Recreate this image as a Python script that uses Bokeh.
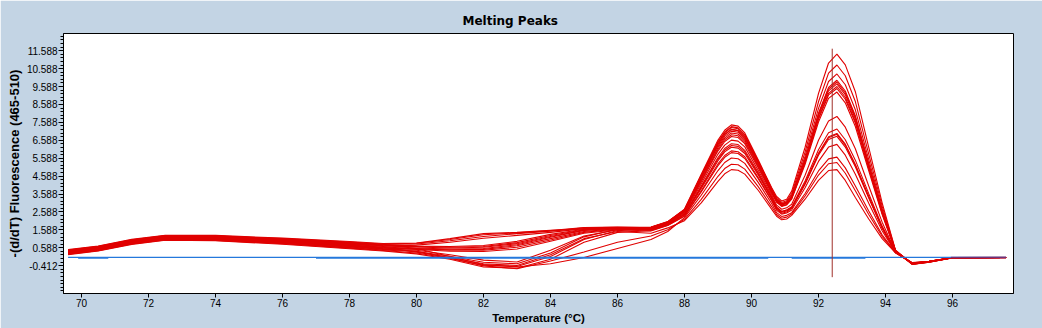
from bokeh.plotting import figure
from bokeh.models import Range1d, FixedTicker, PrintfTickFormatter
from bokeh.embed import file_html
from bokeh.resources import INLINE

# Temperature grid (°C) shared by all sample curves
temps = [69.6, 70.5, 71.5, 72.5, 74.0, 76.0, 78.0, 79.0, 80.0, 81.0, 82.0, 83.0, 84.0, 85.0, 86.0,
         87.0, 87.5, 88.0, 88.5, 89.0, 89.2, 89.4, 89.6, 89.8, 90.2, 90.6, 90.75, 90.9, 91.05, 91.2, 91.6,
         92.0, 92.3, 92.55, 92.8, 93.1, 93.5, 93.9, 94.3, 94.8, 95.3, 96.0, 97.6]

# -(d/dT) Fluorescence (465-510) for each sample
sample_01 = [0.45, 0.65, 1.02, 1.25, 1.24, 1.08, 0.88, 0.77, 0.80, 0.98, 1.22, 1.38, 1.52, 1.70, 1.74, 1.75, 2.05, 2.75, 4.70, 6.60, 7.15, 7.45, 7.38, 7.00, 5.50, 3.95, 3.45, 3.20, 3.30, 3.75, 6.20, 9.20, 10.90, 11.40, 10.80, 9.30, 6.20, 3.10, 0.45, -0.32, -0.20, 0.04, 0.05]
sample_02 = [0.40, 0.60, 0.97, 1.20, 1.19, 1.02, 0.81, 0.70, 0.66, 0.62, 0.66, 0.88, 1.28, 1.60, 1.70, 1.73, 2.03, 2.71, 4.60, 6.46, 7.00, 7.30, 7.23, 6.86, 5.40, 3.88, 3.36, 3.12, 3.21, 3.62, 5.93, 8.74, 10.34, 10.79, 10.19, 8.75, 5.82, 2.91, 0.44, -0.30, -0.19, 0.05, 0.06]
sample_03 = [0.30, 0.50, 0.87, 1.10, 1.08, 0.90, 0.67, 0.55, 0.52, 0.48, 0.50, 0.70, 1.10, 1.50, 1.66, 1.72, 2.02, 2.69, 4.54, 6.37, 6.91, 7.20, 7.13, 6.77, 5.33, 3.83, 3.30, 3.05, 3.15, 3.52, 5.70, 8.37, 9.87, 10.29, 9.69, 8.29, 5.51, 2.76, 0.42, -0.33, -0.21, 0.03, 0.05]
sample_04 = [0.47, 0.67, 1.04, 1.27, 1.26, 1.10, 0.91, 0.80, 0.84, 1.05, 1.32, 1.42, 1.55, 1.72, 1.75, 1.70, 2.00, 2.66, 4.48, 6.28, 6.81, 7.10, 7.04, 6.68, 5.26, 3.78, 3.25, 3.01, 3.10, 3.44, 5.54, 8.10, 9.54, 9.94, 9.34, 7.96, 5.29, 2.65, 0.42, -0.29, -0.18, 0.04, 0.05]
sample_05 = [0.35, 0.55, 0.92, 1.15, 1.13, 0.96, 0.74, 0.62, 0.58, 0.52, 0.55, 0.76, 1.18, 1.56, 1.69, 1.74, 2.04, 2.72, 4.64, 6.51, 7.05, 7.35, 7.28, 6.91, 5.43, 3.90, 3.30, 3.05, 3.15, 3.42, 5.50, 8.03, 9.45, 9.84, 9.24, 7.87, 5.23, 2.62, 0.41, -0.34, -0.22, 0.02, 0.04]
sample_06 = [0.25, 0.45, 0.82, 1.05, 1.02, 0.84, 0.60, 0.47, 0.38, 0.12, -0.22, -0.30, 0.30, 1.20, 1.62, 1.69, 1.99, 2.63, 4.41, 6.19, 6.71, 7.00, 6.94, 6.59, 5.19, 3.73, 3.21, 2.97, 3.06, 3.40, 5.45, 7.95, 9.35, 9.74, 9.14, 7.78, 5.17, 2.58, 0.41, -0.31, -0.19, 0.04, 0.05]
sample_07 = [0.43, 0.63, 1.00, 1.23, 1.22, 1.06, 0.85, 0.74, 0.68, 0.66, 0.72, 0.95, 1.34, 1.62, 1.71, 1.72, 2.02, 2.69, 4.54, 6.37, 6.91, 7.20, 7.13, 6.77, 5.33, 3.83, 3.24, 3.00, 3.09, 3.37, 5.39, 7.84, 9.21, 9.59, 8.99, 7.64, 5.08, 2.54, 0.41, -0.30, -0.20, 0.03, 0.05]
sample_08 = [0.23, 0.43, 0.80, 1.03, 1.00, 0.82, 0.57, 0.44, 0.30, 0.00, -0.38, -0.45, 0.10, 1.05, 1.55, 1.67, 1.97, 2.61, 4.35, 6.09, 6.62, 6.90, 6.84, 6.49, 5.13, 3.69, 3.16, 2.93, 3.01, 3.35, 5.34, 7.76, 9.12, 9.48, 8.88, 7.55, 5.01, 2.51, 0.41, -0.32, -0.21, 0.03, 0.04]
sample_09 = [0.38, 0.58, 0.95, 1.18, 1.16, 1.00, 0.78, 0.66, 0.74, 0.90, 1.12, 1.28, 1.45, 1.66, 1.71, 1.66, 1.96, 2.58, 4.28, 6.00, 6.52, 6.80, 6.74, 6.40, 5.06, 3.64, 3.13, 2.90, 2.98, 3.31, 5.25, 7.61, 8.93, 9.28, 8.68, 7.36, 4.89, 2.44, 0.40, -0.29, -0.18, 0.04, 0.05]
sample_10 = [0.32, 0.52, 0.89, 1.12, 1.10, 0.92, 0.70, 0.58, 0.55, 0.45, 0.45, 0.62, 1.02, 1.45, 1.64, 1.63, 1.93, 2.53, 4.16, 5.82, 6.32, 6.60, 6.54, 6.22, 4.92, 3.54, 2.97, 2.74, 2.82, 3.02, 4.64, 6.59, 7.67, 7.92, 7.32, 6.12, 4.04, 2.02, 0.37, -0.28, -0.18, 0.03, 0.05]
sample_11 = [0.49, 0.69, 1.06, 1.29, 1.28, 1.13, 0.94, 0.83, 0.86, 1.10, 1.38, 1.45, 1.56, 1.64, 1.68, 1.59, 1.89, 2.45, 3.96, 5.54, 6.03, 6.30, 6.25, 5.94, 4.72, 3.40, 2.85, 2.62, 2.70, 2.88, 4.32, 6.06, 7.01, 7.22, 6.62, 5.48, 3.61, 1.80, 0.35, -0.27, -0.17, 0.04, 0.05]
sample_12 = [0.27, 0.47, 0.84, 1.07, 1.04, 0.86, 0.63, 0.50, 0.45, 0.20, -0.10, -0.20, 0.45, 1.25, 1.60, 1.60, 1.90, 2.48, 4.03, 5.63, 6.13, 6.40, 6.35, 6.03, 4.79, 3.45, 2.85, 2.62, 2.70, 2.82, 4.21, 5.87, 6.78, 6.97, 6.37, 5.24, 3.45, 1.73, 0.35, -0.30, -0.19, 0.03, 0.05]
sample_13 = [0.41, 0.61, 0.98, 1.21, 1.20, 1.03, 0.82, 0.71, 0.63, 0.58, 0.62, 0.82, 1.22, 1.57, 1.68, 1.58, 1.88, 2.43, 3.90, 5.45, 5.94, 6.20, 6.15, 5.85, 4.65, 3.35, 2.79, 2.57, 2.64, 2.81, 4.18, 5.83, 6.73, 6.92, 6.32, 5.20, 3.42, 1.71, 0.35, -0.31, -0.20, 0.02, 0.04]
sample_14 = [0.21, 0.41, 0.78, 1.01, 0.98, 0.79, 0.54, 0.41, 0.25, -0.05, -0.48, -0.55, -0.05, 0.90, 1.45, 1.55, 1.85, 2.37, 3.77, 5.27, 5.74, 6.00, 5.95, 5.67, 4.51, 3.25, 2.74, 2.52, 2.59, 2.79, 4.14, 5.75, 6.63, 6.81, 6.21, 5.11, 3.36, 1.68, 0.34, -0.28, -0.18, 0.03, 0.05]
sample_15 = [0.33, 0.53, 0.90, 1.13, 1.11, 0.94, 0.71, 0.59, 0.50, 0.40, 0.38, 0.52, 0.95, 1.40, 1.60, 1.53, 1.83, 2.35, 3.71, 5.17, 5.64, 5.90, 5.85, 5.57, 4.45, 3.21, 2.68, 2.47, 2.53, 2.70, 3.94, 5.41, 6.21, 6.36, 5.76, 4.69, 3.08, 1.54, 0.33, -0.27, -0.17, 0.04, 0.05]
sample_16 = [0.45, 0.65, 1.02, 1.25, 1.24, 1.08, 0.88, 0.77, 0.55, 0.10, -0.35, -0.48, -0.30, 0.05, 0.55, 1.05, 1.50, 2.27, 3.52, 4.90, 5.35, 5.60, 5.56, 5.30, 4.24, 3.06, 2.55, 2.34, 2.40, 2.55, 3.62, 4.88, 5.55, 5.65, 5.05, 4.04, 2.64, 1.32, 0.32, -0.26, -0.17, 0.03, 0.05]
sample_17 = [0.29, 0.49, 0.86, 1.09, 1.06, 0.89, 0.66, 0.53, 0.40, 0.02, -0.42, -0.58, -0.15, 0.35, 0.90, 1.25, 1.60, 2.18, 3.29, 4.58, 5.01, 5.25, 5.22, 4.98, 4.00, 2.89, 2.45, 2.24, 2.30, 2.48, 3.48, 4.65, 5.28, 5.35, 4.75, 3.77, 2.45, 1.23, 0.31, -0.25, -0.16, 0.03, 0.05]
sample_18 = [0.35, 0.55, 0.92, 1.15, 1.13, 0.96, 0.74, 0.62, 0.35, 0.05, -0.30, -0.40, 0.20, 1.10, 1.50, 1.40, 1.70, 2.10, 3.10, 4.30, 4.72, 4.95, 4.92, 4.70, 3.80, 2.75, 2.35, 2.15, 2.20, 2.40, 3.30, 4.35, 4.90, 4.95, 4.35, 3.40, 2.20, 1.10, 0.30, -0.24, -0.16, 0.03, 0.05]

samples = [sample_01, sample_02, sample_03, sample_04, sample_05, sample_06, sample_07, sample_08, sample_09,
           sample_10, sample_11, sample_12, sample_13, sample_14, sample_15, sample_16, sample_17, sample_18]

# Negative control (blue), drawn as two overlapping traces
control_temps = [69.6, 74.0, 80.0, 86.0, 92.0, 97.6]
control_a = [0.05, 0.05, 0.05, 0.05, 0.05, 0.05]
control_b_temps = [69.9, 70.8, float("nan"), 77.0, 90.5, float("nan"), 91.2, 93.4]
control_b = [0.01, 0.01, float("nan"), 0.01, 0.01, float("nan"), 0.01, 0.01]

# Tail where sample and control traces overlap
tail_temps = [95.95, 97.6]
tail_values = [0.05, 0.05]

# Tm marker
marker_temp = [92.41]
marker_top = [11.7]
marker_bottom = [-1.05]

x_ticks = [70, 72, 74, 76, 78, 80, 82, 84, 86, 88, 90, 92, 94, 96]
y_ticks = [-0.412, 0.588, 1.588, 2.588, 3.588, 4.588, 5.588, 6.588, 7.588, 8.588, 9.588, 10.588, 11.588]

BG = "#C3D4E4"

p = figure(width=1042, height=328, output_backend="svg", toolbar_location=None,
           x_range=Range1d(69.463, 97.821), y_range=Range1d(-1.961, 12.548),
           min_border_left=63, min_border_right=29, min_border_top=33, min_border_bottom=35)
p.background_fill_color = "white"
p.border_fill_color = BG
p.outline_line_color = "black"
p.outline_line_width = 1
p.xgrid.visible = False
p.ygrid.visible = False

for s in samples:
    p.line(temps, s, line_color="#E00000", line_width=1.1)

p.line(control_temps, control_a, line_color="#2478DC", line_width=1.3)
p.line(control_b_temps, control_b, line_color="#2478DC", line_width=1.3)
p.line(tail_temps, tail_values, line_color="#6E3278", line_width=1.5)
p.segment(x0=marker_temp, y0=marker_top, x1=marker_temp, y1=marker_bottom,
          line_color="#A0302A", line_width=1)

p.title.text = "Melting Peaks"
p.title.text_font = "DejaVu Sans"
p.title.text_font_size = "12px"
p.title.text_font_style = "bold"
p.title.text_color = "black"
p.title.align = "left"
p.title.offset = 399
p.title.standoff = 11

xa = p.xaxis[0]
xa.ticker = FixedTicker(ticks=x_ticks, minor_ticks=[])
xa.axis_label = "Temperature (°C)"
xa.axis_label_text_font = "Liberation Sans"
xa.axis_label_text_font_size = "11.5px"
xa.axis_label_text_font_style = "bold"
xa.axis_label_text_color = "black"
xa.axis_label_standoff = 2
xa.major_label_text_font = "Liberation Sans"
xa.major_label_text_font_size = "10px"
xa.major_label_text_color = "black"
xa.major_label_standoff = 1
xa.major_tick_out = 4
xa.major_tick_in = 0
xa.minor_tick_out = 0
xa.minor_tick_in = 0
xa.axis_line_color = "black"
xa.major_tick_line_color = "black"

ya = p.yaxis[0]
minor = [round(-1.812 + 0.2 * i, 3) for i in range(72)]
ya.ticker = FixedTicker(ticks=y_ticks, minor_ticks=minor)
ya.formatter = PrintfTickFormatter(format="%.3f")
ya.axis_label = "-(d/dT) Fluorescence (465-510)"
ya.axis_label_text_font = "Liberation Sans"
ya.axis_label_text_font_size = "13px"
ya.axis_label_text_font_style = "bold"
ya.axis_label_text_color = "black"
ya.axis_label_standoff = 2
ya.major_label_text_font = "Liberation Sans"
ya.major_label_text_font_size = "10px"
ya.major_label_text_color = "black"
ya.major_label_standoff = 1
ya.major_tick_out = 5
ya.major_tick_in = 0
ya.minor_tick_out = 3
ya.minor_tick_in = 0
ya.axis_line_color = "black"
ya.major_tick_line_color = "black"
ya.minor_tick_line_color = "black"

open("out.html", "w").write(file_html(p, INLINE))
